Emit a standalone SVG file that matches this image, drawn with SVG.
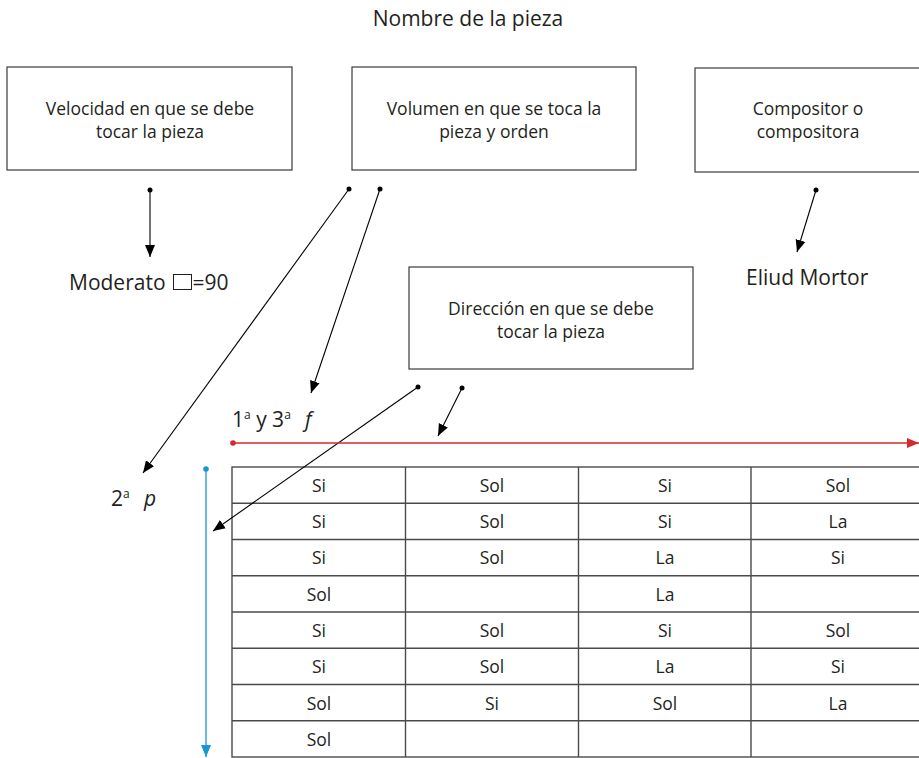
<svg xmlns="http://www.w3.org/2000/svg" width="919" height="758" viewBox="0 0 919 758">
<defs>
<style>
text{font-family:"Open Sans","Liberation Sans",sans-serif;fill:#231f20;}
.t{font-size:17.5px;text-anchor:middle;}
.big{font-size:21px;}
.box{fill:#fff;stroke:#3a3a3a;stroke-width:1.2;}
.cell{fill:none;stroke:#4a4a4a;stroke-width:1.4;}
.c{stroke:#000;stroke-width:1.1;fill:none;}
.cd{font-size:17.5px;text-anchor:middle;}
</style>
<marker id="ah" markerUnits="userSpaceOnUse" markerWidth="14" markerHeight="12" refX="12" refY="5" orient="auto" viewBox="0 0 14 10">
<path d="M0,0 L12,5 L0,10 Z" fill="#000"/>
</marker>
<marker id="ahr" markerUnits="userSpaceOnUse" markerWidth="14" markerHeight="12" refX="12" refY="5" orient="auto" viewBox="0 0 14 10">
<path d="M0,0 L12,5 L0,10 Z" fill="#d7282f"/>
</marker>
<marker id="ahb" markerUnits="userSpaceOnUse" markerWidth="14" markerHeight="12" refX="12" refY="5" orient="auto" viewBox="0 0 14 10">
<path d="M0,0 L12,5 L0,10 Z" fill="#1a96d4"/>
</marker>
</defs>
<rect width="919" height="758" fill="#fff"/>

<g id="title"><text x="468" y="26" class="big" text-anchor="middle">Nombre de la pieza</text></g>

<g id="node-velocidad">
<rect class="box" x="7" y="67" width="285" height="103"/>
<text class="t" x="150" y="115">Velocidad en que se debe</text>
<text class="t" x="150" y="138">tocar la pieza</text>
</g>
<g id="node-volumen">
<rect class="box" x="352" y="67" width="284" height="103"/>
<text class="t" x="494" y="115">Volumen en que se toca la</text>
<text class="t" x="494" y="138">pieza y orden</text>
</g>
<g id="node-compositor">
<rect class="box" x="695" y="68" width="230" height="104"/>
<text class="t" x="808" y="115">Compositor o</text>
<text class="t" x="808" y="138">compositora</text>
</g>
<g id="node-direccion">
<rect class="box" x="409" y="267" width="284" height="102"/>
<text class="t" x="551" y="315">Dirección en que se debe</text>
<text class="t" x="551" y="338">tocar la pieza</text>
</g>

<g id="node-moderato">
<text class="big" x="69" y="290">Moderato</text>
<rect x="173.5" y="274.5" width="18" height="15" fill="none" stroke="#231f20" stroke-width="1"/>
<text class="big" x="192.5" y="290">=90</text>
</g>
<g id="node-eliud"><text class="big" x="746" y="285">Eliud Mortor</text></g>
<g id="node-f">
<text class="big" x="232" y="427">1<tspan font-size="12" dy="-8">a</tspan><tspan dy="8"> y 3</tspan><tspan font-size="12" dy="-8">a</tspan></text>
<text class="big" x="305" y="427" font-style="italic">f</text>
</g>
<g id="node-p">
<text class="big" x="111" y="506">2<tspan font-size="12" dy="-8">a</tspan></text>
<text class="big" x="144" y="506" font-style="italic">p</text>
</g>

<g id="table">
<rect class="cell" x="232" y="467" width="700" height="290"/>
<line class="cell" x1="405.5" y1="467" x2="405.5" y2="757"/>
<line class="cell" x1="578.5" y1="467" x2="578.5" y2="757"/>
<line class="cell" x1="751" y1="467" x2="751" y2="757"/>
<line class="cell" x1="232" y1="503.25" x2="932" y2="503.25"/>
<line class="cell" x1="232" y1="539.5" x2="932" y2="539.5"/>
<line class="cell" x1="232" y1="575.75" x2="932" y2="575.75"/>
<line class="cell" x1="232" y1="612" x2="932" y2="612"/>
<line class="cell" x1="232" y1="648.25" x2="932" y2="648.25"/>
<line class="cell" x1="232" y1="684.5" x2="932" y2="684.5"/>
<line class="cell" x1="232" y1="720.75" x2="932" y2="720.75"/>
<g class="rows">
<text class="cd" x="319" y="492">Si</text><text class="cd" x="492" y="492">Sol</text><text class="cd" x="665" y="492">Si</text><text class="cd" x="838" y="492">Sol</text>
<text class="cd" x="319" y="528">Si</text><text class="cd" x="492" y="528">Sol</text><text class="cd" x="665" y="528">Si</text><text class="cd" x="838" y="528">La</text>
<text class="cd" x="319" y="564">Si</text><text class="cd" x="492" y="564">Sol</text><text class="cd" x="665" y="564">La</text><text class="cd" x="838" y="564">Si</text>
<text class="cd" x="319" y="601">Sol</text><text class="cd" x="665" y="601">La</text>
<text class="cd" x="319" y="637">Si</text><text class="cd" x="492" y="637">Sol</text><text class="cd" x="665" y="637">Si</text><text class="cd" x="838" y="637">Sol</text>
<text class="cd" x="319" y="673">Si</text><text class="cd" x="492" y="673">Sol</text><text class="cd" x="665" y="673">La</text><text class="cd" x="838" y="673">Si</text>
<text class="cd" x="319" y="710">Sol</text><text class="cd" x="492" y="710">Si</text><text class="cd" x="665" y="710">Sol</text><text class="cd" x="838" y="710">La</text>
<text class="cd" x="319" y="746">Sol</text>
</g>
</g>

<g id="connectors">
<line class="c" x1="150" y1="190" x2="150" y2="257" marker-end="url(#ah)"/>
<circle cx="150" cy="190" r="2.5" fill="#000"/>
<line class="c" x1="349" y1="189" x2="143" y2="473" marker-end="url(#ah)"/>
<circle cx="349" cy="189" r="2.5" fill="#000"/>
<line class="c" x1="380" y1="189" x2="311" y2="393" marker-end="url(#ah)"/>
<circle cx="380" cy="189" r="2.5" fill="#000"/>
<line class="c" x1="816" y1="190" x2="797" y2="252" marker-end="url(#ah)"/>
<circle cx="816" cy="190" r="2.5" fill="#000"/>
<line class="c" x1="418" y1="387" x2="213" y2="531" marker-end="url(#ah)"/>
<circle cx="418" cy="387" r="2.5" fill="#000"/>
<line class="c" x1="462" y1="388" x2="438" y2="436" marker-end="url(#ah)"/>
<circle cx="462" cy="388" r="2.5" fill="#000"/>
<line x1="233" y1="443" x2="919" y2="443" stroke="#d7282f" stroke-width="1.3" marker-end="url(#ahr)"/>
<circle cx="233" cy="443" r="2.8" fill="#d7282f"/>
<line x1="206" y1="469" x2="206" y2="757" stroke="#1a96d4" stroke-width="1.3" marker-end="url(#ahb)"/>
<circle cx="206" cy="469" r="2.8" fill="#1a96d4"/>
</g>
</svg>
